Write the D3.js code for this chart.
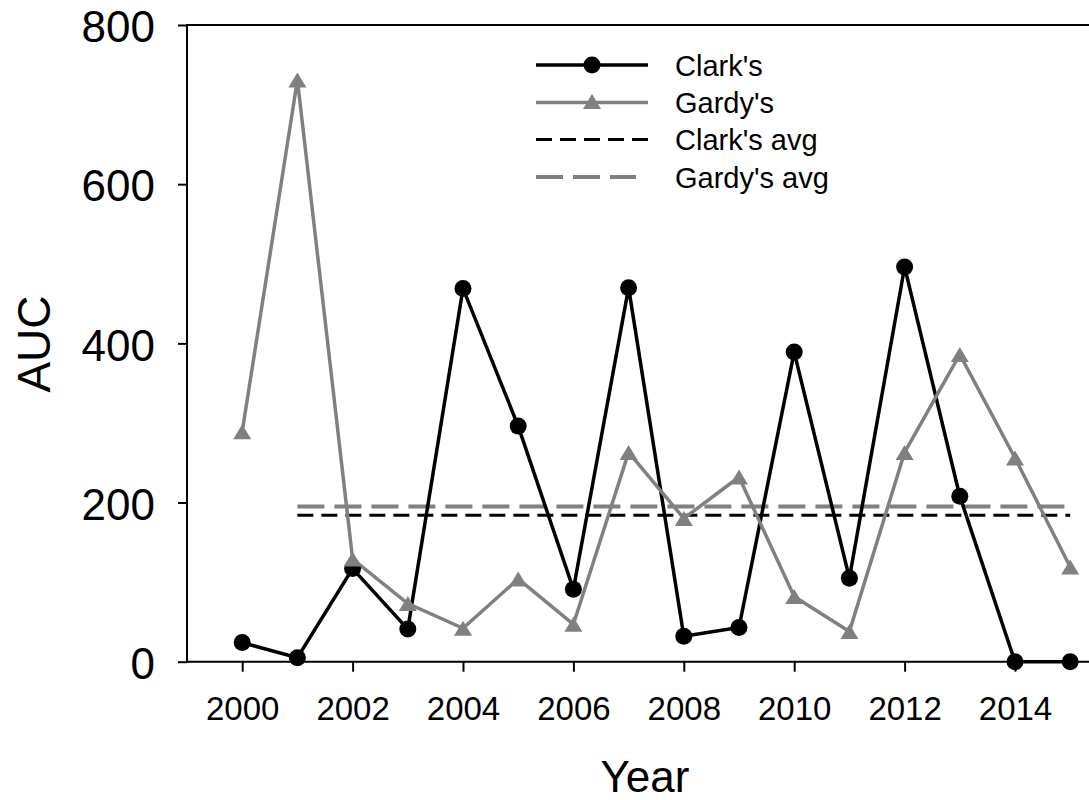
<!DOCTYPE html>
<html>
<head>
<meta charset="utf-8">
<script src="https://cdn.jsdelivr.net/npm/d3@7"></script>
<style>
  html, body { margin: 0; padding: 0; background: #fff; }
  svg { display: block; font-family: Arial, "Liberation Sans", sans-serif; }
</style>
</head>
<body>
<svg id="chart" width="1089" height="800"></svg>
<script>
// ---- data ----
const years = [2000, 2001, 2002, 2003, 2004, 2005, 2006, 2007, 2008, 2009, 2010, 2011, 2012, 2013, 2014, 2015];
const clarks = [24, 5, 117, 41, 469, 296, 91, 470, 32, 43, 389, 105, 496, 208, 0, 0];
const gardys = [289, 731, 129, 73, 42, 104, 47, 263, 180, 232, 82, 38, 263, 386, 256, 119];
const avgYears = [2001, 2015];
const clarksAvg = 184;
const gardysAvg = 195;
const xTicks = [2000, 2002, 2004, 2006, 2008, 2010, 2012, 2014];
const yTicks = [0, 200, 400, 600, 800];
const legendLabels = ["Clark's", "Gardy's", "Clark's avg", "Gardy's avg"];

const BLACK = "#000000";
const GRAY = "#808080";

const svg = d3.select("#chart");
const W = 1089;

const x = d3.scaleLinear().domain([1999, 2016]).range([187, 1125.4]);
const y = d3.scaleLinear().domain([0, 800]).range([661.7, 25]);

// ---- frame lines ----
svg.append("line").attr("x1", 187).attr("x2", W).attr("y1", y(800)).attr("y2", y(800))
  .attr("stroke", BLACK).attr("stroke-width", 2);
svg.append("line").attr("x1", 187).attr("x2", W).attr("y1", y(0)).attr("y2", y(0))
  .attr("stroke", BLACK).attr("stroke-width", 2);
svg.append("line").attr("x1", 187).attr("x2", 187).attr("y1", y(800) - 1).attr("y2", y(0) + 1)
  .attr("stroke", BLACK).attr("stroke-width", 2);

// ---- axes ----
const yAxis = d3.axisLeft(y).tickValues(yTicks).tickSize(9).tickPadding(23).tickFormat(d3.format("d"));
const gy = svg.append("g").attr("transform", "translate(187,0)").call(yAxis);
gy.select(".domain").remove();
gy.selectAll(".tick line").attr("stroke", BLACK).attr("stroke-width", 2);
gy.selectAll(".tick text").attr("font-size", 44).attr("fill", BLACK).attr("dy", "0.38em")
  .attr("font-family", "Arial, 'Liberation Sans', sans-serif");

const xAxis = d3.axisBottom(x).tickValues(xTicks).tickSize(10).tickPadding(25).tickFormat(d3.format("d"));
const gx = svg.append("g").attr("transform", `translate(0,${y(0)})`).call(xAxis);
gx.select(".domain").remove();
gx.selectAll(".tick line").attr("stroke", BLACK).attr("stroke-width", 2);
gx.selectAll(".tick text").attr("font-size", 33).attr("fill", BLACK)
  .attr("font-family", "Arial, 'Liberation Sans', sans-serif");

// axis titles
svg.append("text").attr("transform", "translate(50,344) rotate(-90)")
  .attr("text-anchor", "middle").attr("font-size", 46).attr("fill", BLACK).text("AUC");
svg.append("text").attr("x", 645).attr("y", 792)
  .attr("text-anchor", "middle").attr("font-size", 44).attr("fill", BLACK).text("Year");

// ---- average lines ----
const avgLine = d3.line().x(d => x(d[0])).y(d => y(d[1]));
svg.append("path").datum(avgYears.map(yr => [yr, gardysAvg])).attr("d", avgLine)
  .attr("fill", "none").attr("stroke", GRAY).attr("stroke-width", 4).attr("stroke-dasharray", "27,10");
svg.append("path").datum(avgYears.map(yr => [yr, clarksAvg])).attr("d", avgLine)
  .attr("fill", "none").attr("stroke", BLACK).attr("stroke-width", 3).attr("stroke-dasharray", "16,8");

// ---- series lines ----
const line = d3.line().x((d, i) => x(years[i])).y(d => y(d));
svg.append("path").datum(clarks).attr("d", line)
  .attr("fill", "none").attr("stroke", BLACK).attr("stroke-width", 3.5).attr("stroke-linejoin", "miter");
svg.append("path").datum(gardys).attr("d", line)
  .attr("fill", "none").attr("stroke", GRAY).attr("stroke-width", 3.5).attr("stroke-linejoin", "miter");

// ---- markers ----
const triPath = "M0,-7.5L9,7.5L-9,7.5Z";
svg.append("g").selectAll("circle").data(clarks).join("circle")
  .attr("cx", (d, i) => x(years[i])).attr("cy", d => y(d)).attr("r", 8.5).attr("fill", BLACK);
svg.append("g").selectAll("path").data(gardys).join("path")
  .attr("d", triPath).attr("transform", (d, i) => `translate(${x(years[i])},${y(d)})`).attr("fill", GRAY);

// ---- legend ----
const lg = svg.append("g");
const rowY = [65, 102.5, 139.5, 177];
const lx1 = 536, lx2 = 648, lmid = 592, tx = 675;
// Clark's
lg.append("line").attr("x1", lx1).attr("x2", lx2).attr("y1", rowY[0]).attr("y2", rowY[0])
  .attr("stroke", BLACK).attr("stroke-width", 3.5);
lg.append("circle").attr("cx", lmid).attr("cy", rowY[0]).attr("r", 8.5).attr("fill", BLACK);
// Gardy's
lg.append("line").attr("x1", lx1).attr("x2", lx2).attr("y1", rowY[1]).attr("y2", rowY[1])
  .attr("stroke", GRAY).attr("stroke-width", 3.5);
lg.append("path").attr("d", triPath).attr("transform", `translate(${lmid},${rowY[1] - 1})`).attr("fill", GRAY);
// Clark's avg
lg.append("line").attr("x1", lx1).attr("x2", lx2).attr("y1", rowY[2]).attr("y2", rowY[2])
  .attr("stroke", BLACK).attr("stroke-width", 3).attr("stroke-dasharray", "16,8");
// Gardy's avg
lg.append("line").attr("x1", lx1).attr("x2", lx2 - 12).attr("y1", rowY[3]).attr("y2", rowY[3])
  .attr("stroke", GRAY).attr("stroke-width", 4).attr("stroke-dasharray", "27,10");

lg.selectAll("text.lab").data(legendLabels).join("text").attr("class", "lab")
  .attr("x", tx).attr("y", (d, i) => rowY[i] + 10.5)
  .attr("font-size", 29).attr("fill", BLACK).text(d => d);
</script>
</body>
</html>
